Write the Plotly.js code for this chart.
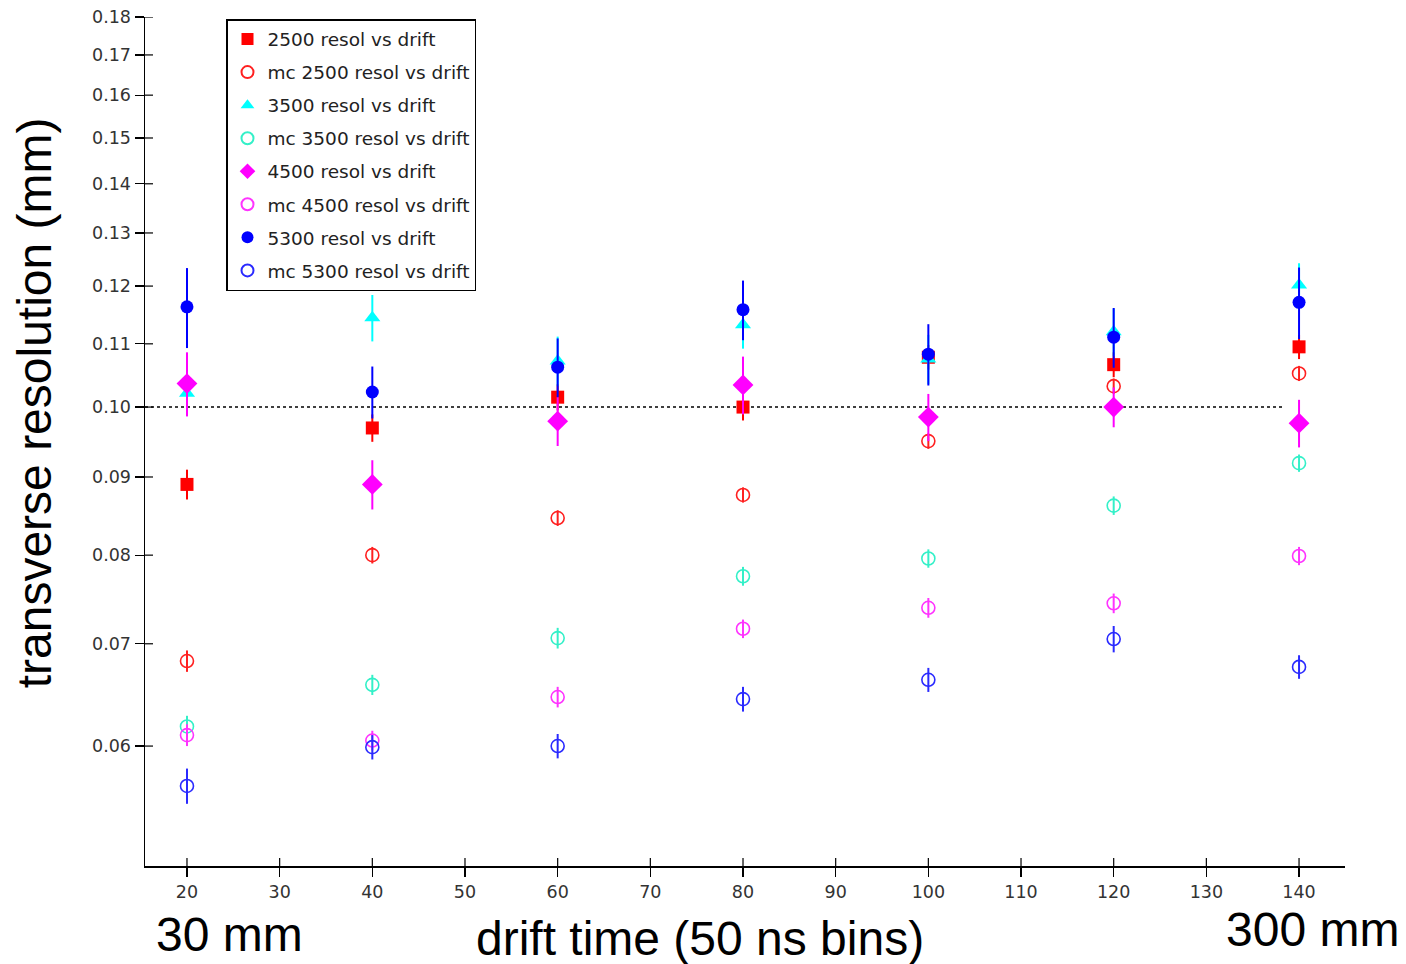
<!DOCTYPE html>
<html><head><meta charset="utf-8">
<script src="https://cdn.plot.ly/plotly-3.0.1.min.js"></script>
<style>html,body{margin:0;padding:0;background:#fff}#chart{width:1406px;height:964px}</style>
</head><body><div id="chart"></div>
<script>
// drift time bins (50 ns)
const drift = [20, 40, 60, 80, 100, 120, 140];

// 2500
const res2500   = [0.0890, 0.0969, 0.1015, 0.1000, 0.1078, 0.1066, 0.1095];
const err2500   = [0.0020, 0.0020, 0.0020, 0.0020, 0.0020, 0.0020, 0.0020];
const mc2500    = [0.0682, 0.0800, 0.0846, 0.0876, 0.0950, 0.1032, 0.1052];
const mcErr2500 = [0.0011, 0.0010, 0.0010, 0.0010, 0.0011, 0.0012, 0.0012];
// 3500
const res3500   = [0.1021, 0.1144, 0.1072, 0.1132, 0.1075, 0.1120, 0.1202];
const err3500   = [0.0030, 0.0040, 0.0040, 0.0040, 0.0040, 0.0040, 0.0040];
const mc3500    = [0.0618, 0.0658, 0.0706, 0.0775, 0.0796, 0.0862, 0.0919];
const mcErr3500 = [0.0010, 0.0010, 0.0011, 0.0011, 0.0011, 0.0012, 0.0012];
// 4500
const res4500   = [0.1036, 0.0890, 0.0979, 0.1034, 0.0985, 0.1000, 0.0976];
const err4500   = [0.0050, 0.0033, 0.0036, 0.0045, 0.0035, 0.0030, 0.0035];
const mc4500    = [0.0610, 0.0605, 0.0646, 0.0716, 0.0739, 0.0744, 0.0799];
const mcErr4500 = [0.0010, 0.0009, 0.0010, 0.0010, 0.0011, 0.0011, 0.0011];
// 5300
const res5300   = [0.1163, 0.1023, 0.1062, 0.1158, 0.1083, 0.1111, 0.1171];
const err5300   = [0.0070, 0.0040, 0.0047, 0.0052, 0.0050, 0.0050, 0.0063];
const mc5300    = [0.0565, 0.0599, 0.0600, 0.0644, 0.0663, 0.0705, 0.0676];
const mcErr5300 = [0.0015, 0.0011, 0.0011, 0.0012, 0.0012, 0.0014, 0.0012];

const legendNames = ['2500 resol vs drift','mc 2500 resol vs drift','3500 resol vs drift','mc 3500 resol vs drift',
                     '4500 resol vs drift','mc 4500 resol vs drift','5300 resol vs drift','mc 5300 resol vs drift'];
const yTicks = [0.06,0.07,0.08,0.09,0.10,0.11,0.12,0.13,0.14,0.15,0.16,0.17,0.18];
const yTickText = ['0.06','0.07','0.08','0.09','0.10','0.11','0.12','0.13','0.14','0.15','0.16','0.17','0.18'];
const xTicks = [20,30,40,50,60,70,80,90,100,110,120,130,140];
const refLevel = 0.10;

const tickFont = {family: 'DejaVu Sans, sans-serif', size: 17.5, color: '#333'};
const bigFont = {family: 'Liberation Sans, Arial, sans-serif', size: 48, color: '#000'};

function tr(i, y, err, color, symbol, size, open) {
  return {
    x: drift, y: y, type: 'scatter', mode: 'markers', name: legendNames[i],
    legendgroup: 'g' + i,
    marker: open ? {symbol: symbol, size: size, color: color, line: {color: color, width: 1.6}}
                 : {symbol: symbol, size: size, color: color, line: {width: 0}},
    error_y: {type: 'data', array: err, visible: true, color: color, thickness: 2, width: 0}
  };
}

const data = [
  tr(0, res2500, err2500, '#ff0000', 'square', 13, false),
  tr(1, mc2500, mcErr2500, '#ff2020', 'circle-open', 13, true),
  tr(2, res3500, err3500, '#00ffff', 'triangle-up', 14, false),
  tr(3, mc3500, mcErr3500, '#33f0c8', 'circle-open', 13, true),
  tr(4, res4500, err4500, '#ff00ff', 'diamond', 16, false),
  tr(5, mc4500, mcErr4500, '#ff33ff', 'circle-open', 13, true),
  tr(6, res5300, err5300, '#0000ff', 'circle', 13, false),
  tr(7, mc5300, mcErr5300, '#2a2aff', 'circle-open', 13, true)
];

// inner halves of the axis ticks (ticks cross the axis lines)
const tickShapes = [];
xTicks.forEach(v => tickShapes.push({type: 'line', xref: 'x', yref: 'paper', x0: v, x1: v, y0: 0, y1: 8 / 849,
  line: {color: '#000', width: 1.2}}));
yTicks.forEach(v => tickShapes.push({type: 'line', xref: 'paper', yref: 'y', x0: 0, x1: 8 / 1200, y0: v, y1: v,
  line: {color: '#000', width: 1.2}}));

const layout = {
  width: 1406, height: 964,
  margin: {l: 145, r: 61, t: 17, b: 98},
  paper_bgcolor: '#fff', plot_bgcolor: '#fff',
  showlegend: true,
  legend: {
    x: 0.0675, y: 0.9976, xanchor: 'left', yanchor: 'top',
    bgcolor: '#fff', bordercolor: '#000', borderwidth: 1.5,
    font: {family: 'DejaVu Sans, sans-serif', size: 18.5, color: '#222'},
    tracegroupgap: 6, itemsizing: 'constant'
  },
  xaxis: {
    range: [15.47, 144.96], tickvals: xTicks, ticktext: xTicks.map(String),
    showgrid: false, zeroline: false, showline: true, linecolor: '#000', linewidth: 1.5,
    ticks: 'outside', ticklen: 9, tickwidth: 1.2, tickcolor: '#000',
    tickfont: tickFont
  },
  yaxis: {
    type: 'log', range: [Math.log10(0.05008), Math.log10(0.18)],
    tickvals: yTicks, ticktext: yTickText,
    showgrid: false, zeroline: false, showline: true, linecolor: '#000', linewidth: 1.5,
    ticks: 'outside', ticklen: 9, tickwidth: 1.2, tickcolor: '#000',
    tickfont: tickFont
  },
  shapes: [{
    type: 'line', xref: 'x', yref: 'y', x0: 15.47, x1: 138.2, y0: refLevel, y1: refLevel,
    line: {color: '#000', width: 1.5, dash: 'dot'}, layer: 'below'
  }].concat(tickShapes),
  annotations: [
    {text: 'transverse resolution (mm)', xref: 'paper', yref: 'paper', x: -0.0925, y: 0.545,
     textangle: -90, showarrow: false, xanchor: 'center', yanchor: 'middle', font: bigFont},
    {text: 'drift time (50 ns bins)', xref: 'paper', yref: 'paper', x: 0.4625, y: -0.085,
     showarrow: false, xanchor: 'center', yanchor: 'middle', font: bigFont},
    {text: '30 mm', xref: 'paper', yref: 'paper', x: 0.0708, y: -0.1142,
     showarrow: false, xanchor: 'center', yanchor: 'bottom', font: bigFont},
    {text: '300 mm', xref: 'paper', yref: 'paper', x: 0.973, y: -0.075,
     showarrow: false, xanchor: 'center', yanchor: 'middle', font: bigFont}
  ]
};

Plotly.newPlot('chart', data, layout, {displayModeBar: false, staticPlot: true});
</script>
</body></html>
